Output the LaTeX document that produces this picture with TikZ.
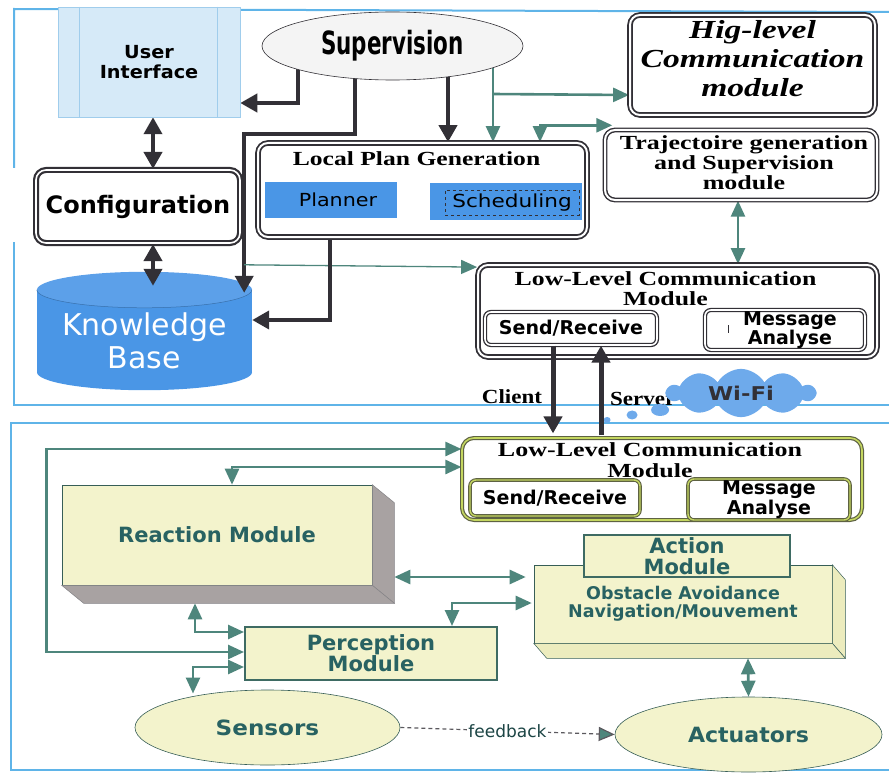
\documentclass[tikz,border=0pt]{standalone}
\usepackage{fontspec}
\setmainfont{DejaVu Sans}
\newfontfamily\tms{Liberation Serif}
\usetikzlibrary{arrows.meta,shapes.geometric,shapes.symbols,calc}
\pgfdeclarelayer{back}
\pgfdeclarelayer{bg}
\pgfsetlayers{back,bg,main}

\newcommand\fsz[1]{\fontsize{#1}{1.15\dimexpr#1pt\relax}\selectfont}
\newcommand\sx[2]{\scalebox{#1}[1]{#2}}

\definecolor{panel}{RGB}{95,180,232}
\definecolor{ink}{RGB}{50,48,54}
\definecolor{lnk}{RGB}{78,134,124}
\definecolor{tealtxt}{RGB}{40,98,98}
\definecolor{cream}{RGB}{243,243,204}
\definecolor{creamside}{RGB}{236,236,190}
\definecolor{side}{RGB}{168,162,162}
\definecolor{kbblue}{RGB}{74,150,230}
\definecolor{uiblue}{RGB}{214,234,248}
\definecolor{uiline}{RGB}{160,205,236}
\definecolor{olivebd}{RGB}{196,214,96}
\definecolor{cloudblue}{RGB}{110,170,235}

\tikzset{
  panel line/.style={draw=panel, line width=2pt},
  darr/.style={draw=ink, line width=4pt, -{Triangle[length=17pt,width=18pt]}},
  ddarr/.style={draw=ink, line width=4pt, arrows={Triangle[length=17pt,width=18pt]-Triangle[length=17pt,width=18pt]}},
  garr/.style={draw=lnk, line width=2.6pt, -{Triangle[length=16pt,width=14pt]}},
  gdarr/.style={draw=lnk, line width=2.6pt, arrows={Triangle[length=16pt,width=14pt]-Triangle[length=16pt,width=14pt]}},
  gsmall/.style={draw=lnk, line width=2pt, arrows={Triangle[length=9pt,width=11pt]-Triangle[length=9pt,width=11pt]}},
  hbox/.style={draw=ink, line width=1.4pt, double=white, double distance=2pt, rounded corners=10pt, fill=white, inner sep=0pt, align=center},
  ibox/.style={draw=ink, line width=1.3pt, double=white, double distance=1.6pt, rounded corners=6pt, fill=white, inner sep=0pt, align=center, font=\bfseries\fsz{19}},
  ybox/.style={draw=ink!70!olivebd, line width=1.2pt, double=olivebd, double distance=1.6pt, rounded corners=12pt, fill=white, inner sep=0pt, align=center},
  yibox/.style={draw=ink!70!olivebd, line width=1.1pt, double=olivebd, double distance=1.4pt, rounded corners=6pt, fill=white, inner sep=0pt, align=center, font=\bfseries\fsz{19}},
  bluebox/.style={fill=kbblue, draw=none, inner sep=0pt, font=\fsz{18}},
  front/.style={fill=cream, draw=lnk!70!black, line width=0.6pt, inner sep=0pt, align=center, text=tealtxt, font=\bfseries\fsz{21}},
  flat/.style={fill=cream, draw=lnk!80!black, line width=2pt, inner sep=0pt, align=center, text=tealtxt, font=\bfseries\fsz{21}},
  oval/.style={ellipse, fill=cream, draw=lnk!70!black, line width=0.6pt, inner sep=0pt, text=tealtxt, font=\bfseries\fsz{21}},
  sertitle/.style={font=\tms\bfseries\fsz{20}, align=center, inner sep=0pt},
}

\begin{document}
\begin{tikzpicture}[x=1pt,y=-1pt]
\useasboundingbox (0,0) rectangle (889,773);

% panel frames
\draw[panel line] (14,168) -- (14,9) -- (889,12);
\draw[panel line] (14,242) -- (14,405) -- (889,405);
\draw[panel line] (889,423) -- (11,423) -- (11,770) -- (889,770);

% ---------------- upper panel ----------------
\node[fill=uiblue, draw=uiline, line width=0.5pt, minimum width=182pt, minimum height=110pt,
      align=center, font=\bfseries\fsz{18}] (ui) at (149,62) {\sx{1.07}{User}\\\sx{1.07}{Interface}};
\draw[uiline, line width=0.6pt] ($(ui.north west)+(22,0)$) -- ($(ui.south west)+(22,0)$);
\draw[uiline, line width=0.6pt] ($(ui.north east)+(-23,0)$) -- ($(ui.south east)+(-23,0)$);

\node[ellipse, fill=gray!9, draw=ink, line width=0.6pt, minimum width=261pt, minimum height=68pt,
      inner sep=0pt, font=\bfseries\fsz{32}] (sup) at (392.5,46) {\sx{0.67}{Supervision}};

\node[hbox, line width=1.8pt, minimum width=245pt, minimum height=100pt] (hig) at (752.5,65) {};
\node[font=\tms\bfseries\itshape\fsz{26}, align=center, inner sep=0pt,
      execute at begin node=\setlength{\baselineskip}{29pt}] (higt) at ($(hig.center)+(0,-6)$)
      {\sx{1.29}{Hig-level}\\\sx{1.29}{Communication}\\\sx{1.29}{module}};

\node[hbox, minimum width=272pt, minimum height=70pt] (traj) at (741,165) {};
\node[font=\tms\bfseries\fsz{20}, align=center, inner sep=0pt,
      execute at begin node=\setlength{\baselineskip}{20pt}] (trajt) at ($(traj.center)+(3,-2)$)
      {\sx{1.3}{Trajectoire generation}\\\sx{1.3}{and Supervision}\\\sx{1.3}{module}};

\node[hbox, line width=1.8pt, minimum width=329pt, minimum height=94pt] (lpg) at (422.5,190) {};
\node[sertitle] (lpgt) at ($(lpg.north)+(-6,17)$) {\sx{1.28}{Local Plan Generation}};
\node[bluebox, minimum width=132pt, minimum height=36pt] (plan) at (331,200) {};
\node[font=\fsz{18}, inner sep=0pt] (plant) at ($(plan.center)+(7,0)$) {\sx{1.15}{Planner}};
\node[bluebox, minimum width=152pt, minimum height=37pt] (sched) at (506,201.5) {};
\node[draw=ink, dashed, line width=0.5pt, minimum width=134pt, minimum height=25pt, inner sep=0pt,
      font=\fsz{18}] (schedt) at ($(sched.center)+(6,1)$) {\sx{1.2}{Scheduling}};

\node[hbox, line width=2.2pt, double distance=1.6pt, minimum width=204pt, minimum height=73pt,
      font=\bfseries\fsz{24}] (cfg) at (138,206.5) {Configuration};

\node[minimum width=215pt, minimum height=118pt, inner sep=0pt] (kb) at (144.5,331) {};
\begin{pgfonlayer}{back}
  \fill[kbblue] ($(kb.north west)+(0,18)$) rectangle ($(kb.south east)+(0,-18)$);
  \fill[kbblue] ($(kb.south)+(0,-18)$) ellipse [x radius=107.5, y radius=18];
  \fill[kbblue!90!white] ($(kb.north)+(0,18)$) ellipse [x radius=107.5, y radius=18];
  \draw[kbblue!75!black, line width=0.5pt] ($(kb.north west)+(0,18)$)
      arc[start angle=180, end angle=0, x radius=107.5, y radius=18];
\end{pgfonlayer}
\node[text=white, align=center, font=\fsz{30}, inner sep=0pt,
      execute at begin node=\setlength{\baselineskip}{33pt}] (kbt) at ($(kb.center)+(0,10)$) {Knowledge\\Base};

\node[hbox, line width=1.8pt, minimum width=399pt, minimum height=92pt] (llt) at (677.5,311) {};
\node[sertitle, execute at begin node=\setlength{\baselineskip}{20pt}] (lltt) at ($(llt.north)+(-12,25)$)
      {\sx{1.29}{Low-Level Communication}\\\sx{1.29}{Module}};
\node[ibox, minimum width=172pt, minimum height=33pt] (srt) at (571,328.5) {Send/Receive};
\node[ibox, minimum width=160pt, minimum height=40pt, execute at begin node=\setlength{\baselineskip}{16pt}]
      (mat) at (785,330) {\hspace*{10pt}Message\\\hspace*{10pt}Analyse};
\draw[ink, line width=0.8pt] ($(mat.west)+(24,-5)$) -- ($(mat.west)+(24,3)$);

\node[font=\tms\bfseries\fsz{20}, inner sep=0pt] (cl) at (512,397) {\sx{1.15}{Client}};
\node[font=\tms\bfseries\fsz{20}, inner sep=0pt, anchor=west] (sv) at (610,399) {\sx{1.15}{Server}};
\node[cloud, cloud puffs=10, cloud puff arc=120, aspect=2.8, fill=cloudblue, draw=none, minimum width=148pt,
      minimum height=40pt, inner sep=0pt, font=\bfseries\fsz{19}, text=ink] (wifi) at (741,393) {\sx{1.2}{Wi-Fi}};
\fill[cloudblue] ($(wifi.west)+(-5,17)$) ellipse [x radius=9, y radius=6];
\fill[cloudblue] ($(wifi.west)+(-33,22)$) ellipse [x radius=5.5, y radius=4.5];
\fill[cloudblue] ($(wifi.west)+(-58,27)$) ellipse [x radius=3.5, y radius=3];

% ---------------- lower panel ----------------
\node[ybox, minimum width=400pt, minimum height=82pt] (llb) at (662,479) {};
\node[sertitle, execute at begin node=\setlength{\baselineskip}{21pt}] (llbt) at ($(llb.north)+(-12,23)$)
      {\sx{1.3}{Low-Level Communication}\\\sx{1.3}{Module}};
\node[yibox, minimum width=170pt, minimum height=36pt] (srb) at (555,498) {Send/Receive};
\node[yibox, minimum width=162pt, minimum height=41pt, execute at begin node=\setlength{\baselineskip}{16pt}]
      (mab) at (769,499.5) {Message\\Analyse};

\node[front, minimum width=310pt, minimum height=100pt] (react) at (217,535) {Reaction Module};
\fill[side, draw=ink!60, line width=0.5pt] (react.north east) -- ++(22,18) -- ($(react.south east)+(22,18)$) -- (react.south east) -- cycle;
\fill[side, draw=ink!60, line width=0.5pt] (react.south west) -- ++(22,18) -- ($(react.south east)+(22,18)$) -- (react.south east) -- cycle;

\node[front, font=\bfseries\fsz{17.5}, minimum width=298pt, minimum height=78pt,
      execute at begin node=\setlength{\baselineskip}{18pt}] (obs) at (683,604)
      {Obstacle Avoidance\\Navigation/Mouvement};
\fill[creamside, draw=lnk!70!black, line width=0.5pt] (obs.north east) -- ++(13,15) -- ($(obs.south east)+(13,15)$) -- (obs.south east) -- cycle;
\fill[creamside, draw=lnk!70!black, line width=0.5pt] (obs.south west) -- ++(13,15) -- ($(obs.south east)+(13,15)$) -- (obs.south east) -- cycle;
\node[flat, minimum width=206pt, minimum height=42pt,
      execute at begin node=\setlength{\baselineskip}{21pt}] (actm) at (687,556) {Action\\Module};

\node[flat, minimum width=252pt, minimum height=53pt, execute at begin node=\setlength{\baselineskip}{21pt}]
      (perc) at (371,653.5) {Perception\\Module};

\node[oval, minimum width=265pt, minimum height=75pt] (sens) at (267.5,727.5) {\sx{1.1}{Sensors}};
\node[oval, minimum width=267pt, minimum height=75pt] (act) at (748.5,734.5) {\sx{1.05}{Actuators}};

% ---------------- connectors ----------------
\begin{pgfonlayer}{bg}
  % supervision outputs
  \draw[darr] ($(sup.center)+(-94.5,0)$) |- ($(ui.east)+(0,41)$);
  \draw[darr] ($(sup.center)+(-37.5,0)$) -- ++(0,88) -| ($(kb.north east)+(-8,21)$);
  \draw[darr] ($(sup.center)+(55.5,0)$) -- ($(lpg.north)+(25.5,0)$);
  \draw[garr] ($(sup.center)+(100.5,0)$) -- ($(lpg.north)+(70.5,0)$);
  \draw[garr] ($(sup.center)+(100.5,48)$) -- ($(hig.west)+(0,30)$);
  \draw[gdarr] ($(lpg.north)+(117.5,0)$) |- ($(traj.north west)+(8,-4)$);
  \draw[gdarr] ($(traj.south)+(-3,0)$) -- ($(llt.north)+(60.5,0)$);
  \draw[garr, line width=1.3pt] ($(kb.north east)+(-8,-7)$) -- ($(llt.north west)+(0,3)$);
  \draw[darr] ($(lpg.south)+(-92.5,0)$) |- ($(kb.east)+(0,-11)$);
  \draw[ddarr] ($(ui.south)+(4,0)$) -- ($(cfg.north)+(15,0)$);
  \draw[ddarr] ($(cfg.south)+(15,0)$) -- ($(kb.north)+(8.5,14)$);
  \draw[gsmall] (plan.east) -- (sched.west);
  \draw[gdarr] (srt.east) -- (mat.west);
  % lower panel
  \draw[gdarr] (srb.east) -- (mab.west);
  \draw[gdarr] ($(llb.west)+(0,-30)$) -- ++(-415,0) |- ($(perc.west)+(0,-1.5)$);
  \draw[gdarr] ($(llb.west)+(0,-12)$) -| ($(react.north)+(15,0)$);
  \draw[gdarr] ($(react.south)+(-22,18)$) |- ($(perc.west)+(0,-21.5)$);
  \draw[gdarr] ($(perc.west)+(0,13.5)$) -| ($(sens.center)+(-74.5,-34)$);
  \draw[gdarr] ($(react.east)+(22,42)$) -- ($(obs.west)+(-8,-27)$);
  \draw[gdarr] ($(perc.north)+(81,0)$) |- ($(obs.west)+(-2,-1)$);
  \draw[gdarr] ($(obs.south)+(65,15)$) -- (act.north);
  \draw[draw=ink!80, line width=1.2pt, dash pattern=on 4pt off 3pt, -{Triangle[length=16pt,width=14pt,fill=lnk]}]
      (sens.east) -- node[fill=white, inner sep=1pt, text=tealtxt!70!black, font=\fsz{17}] (fb) {feedback} (act.west);
\end{pgfonlayer}

% client / server link between the two communication modules
\draw[darr, line width=5pt] ($(srt.south)+(-18,0)$) -- ($(llb.north)+(-109,-4)$);
\draw[darr, line width=5pt] ($(llb.north)+(-61,-2)$) -- ($(srt.south)+(30,0)$);
\end{tikzpicture}
\end{document}
